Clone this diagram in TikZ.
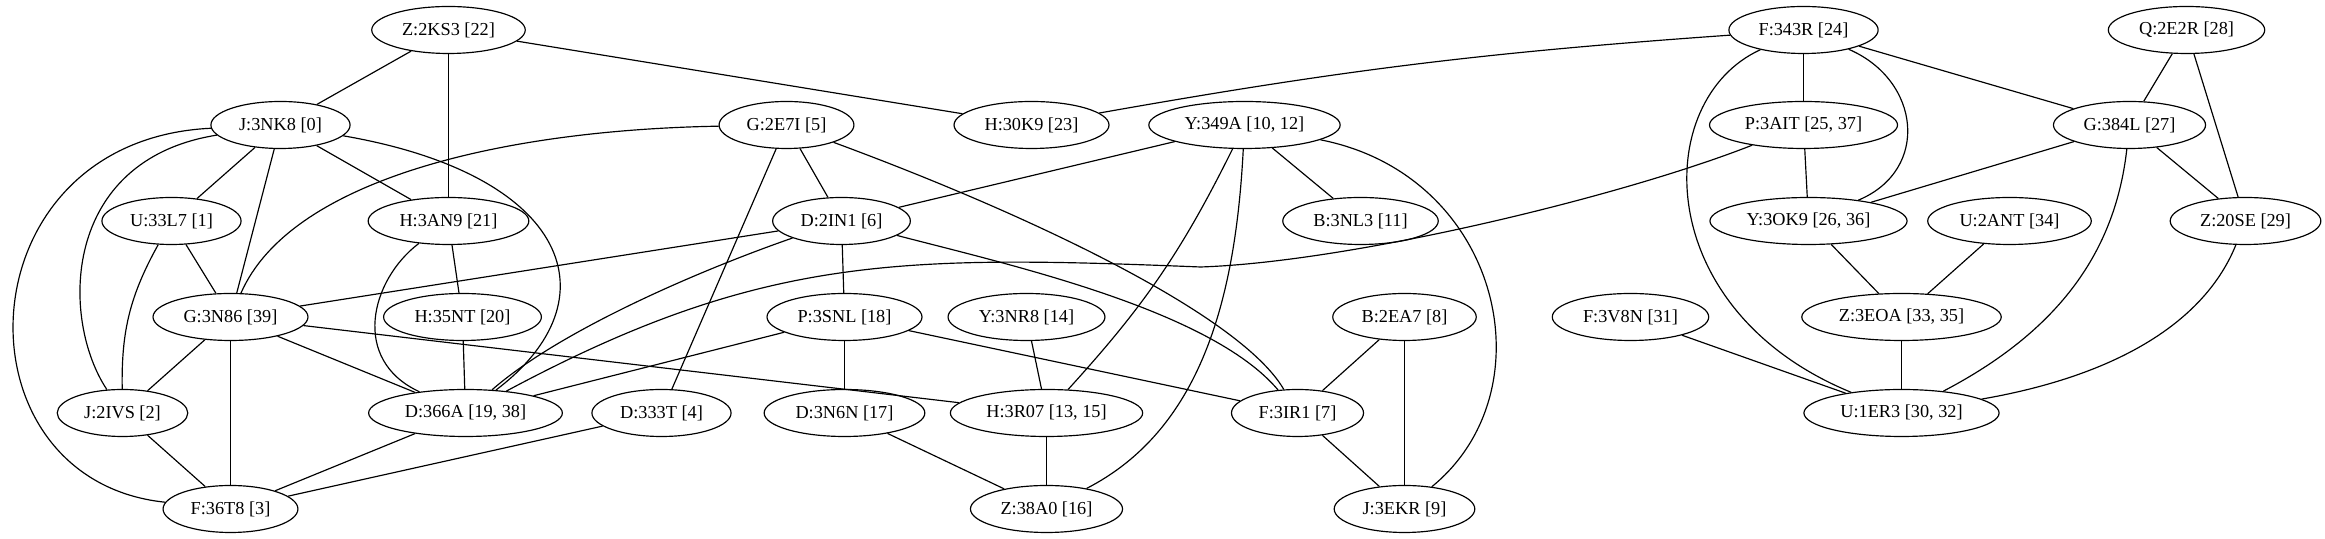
\documentclass[tikz,border=0pt]{standalone}
\usepackage{fontspec}
\setmainfont{Liberation Serif}
\usetikzlibrary{positioning,shapes.geometric}

\begin{document}
\begin{tikzpicture}[
  x=0.766pt, y=0.766pt,
  font={\fontsize{14}{16}\selectfont},
  vertex/.style={ellipse,draw,line width=0.9pt,inner xsep=6pt,inner ysep=2pt,minimum height=36pt},
  edge/.style={line width=0.9pt},
]
  \useasboundingbox (-0.5,0) rectangle (2324.5,539);

  % Top row
  \node[vertex] (z2ks3) at (448,509) {Z:2KS3 [22]};
  \node[vertex] (f343r) at (1803,509) {F:343R [24]};
  \node[vertex] (q2e2r) at (2186,509) {Q:2E2R [28]};

  \node[vertex] (j3nk8) at (280,414) {J:3NK8 [0]};
  \node[vertex] (g2e7i) at (786,414) {G:2E7I [5]};
  \node[vertex] (h30k9) at (1031,414) {H:30K9 [23]};
  \node[vertex] (y349a) at (1244,414) {Y:349A [10, 12]};
  \node[vertex] (p3ait) at (1803,414) {P:3AIT [25, 37]};
  \node[vertex] (g384l) at (2129,414) {G:384L [27]};

  \node[vertex] (u33l7) at (171,318) {U:33L7 [1]};
  \node[vertex] (h3an9) at (448,318) {H:3AN9 [21]};
  \node[vertex] (d2in1) at (841,318) {D:2IN1 [6]};
  \node[vertex] (b3nl3) at (1360,318) {B:3NL3 [11]};
  \node[vertex] (y3ok9) at (1808,318) {Y:3OK9 [26, 36]};
  \node[vertex] (u2ant) at (2009,318) {U:2ANT [34]};
  \node[vertex] (z20se) at (2245,318) {Z:20SE [29]};

  \node[vertex] (g3n86) at (230,222) {G:3N86 [39]};
  \node[vertex] (h35nt) at (462,222) {H:35NT [20]};
  \node[vertex] (p3snl) at (844,222) {P:3SNL [18]};
  \node[vertex] (y3nr8) at (1026,222) {Y:3NR8 [14]};
  \node[vertex] (b2ea7) at (1404,222) {B:2EA7 [8]};
  \node[vertex] (f3v8n) at (1630,222) {F:3V8N [31]};
  \node[vertex] (z3eoa) at (1901,222) {Z:3EOA [33, 35]};

  \node[vertex] (j2ivs) at (122,126) {J:2IVS [2]};
  \node[vertex] (d366a) at (465,126) {D:366A [19, 38]};
  \node[vertex] (d333t) at (661,126) {D:333T [4]};
  \node[vertex] (d3n6n) at (844,126) {D:3N6N [17]};
  \node[vertex] (h3r07) at (1046,126) {H:3R07 [13, 15]};
  \node[vertex] (f3ir1) at (1297,126) {F:3IR1 [7]};
  \node[vertex] (u1er3) at (1901,126) {U:1ER3 [30, 32]};

  % Bottom row
  \node[vertex] (f36t8) at (230,30) {F:36T8 [3]};
  \node[vertex] (z38a0) at (1046,30) {Z:38A0 [16]};
  \node[vertex] (j3ekr) at (1404,30) {J:3EKR [9]};

  \coordinate (pbend) at (1200,272);

  % Left part
  \draw[edge] (z2ks3) -- (j3nk8);
  \draw[edge] (z2ks3) -- (h3an9);
  \draw[edge] (z2ks3) -- (h30k9);
  \draw[edge] (j3nk8) -- (u33l7);
  \draw[edge] (j3nk8) -- (g3n86);
  \draw[edge] (j3nk8) -- (h3an9);
  \draw[edge] (j3nk8) .. controls (570,364) and (615,239) .. (d366a);
  \draw[edge] (j3nk8) .. controls (60,379) and (60,219) .. (j2ivs);
  \draw[edge] (j3nk8) .. controls (-40,399) and (-50,59) .. (f36t8);
  \draw[edge] (u33l7) -- (g3n86);
  \draw[edge] (u33l7) to[bend right=15] (j2ivs);
  \draw[edge] (h3an9) -- (h35nt);
  \draw[edge] (h3an9) .. controls (370,259) and (350,179) .. (d366a);
  \draw[edge] (h35nt) -- (d366a);
  \draw[edge] (g3n86) -- (j2ivs);
  \draw[edge] (g3n86) -- (f36t8);
  \draw[edge] (g3n86) -- (d366a);
  \draw[edge] (g3n86) -- (h3r07);
  \draw[edge] (j2ivs) -- (f36t8);
  \draw[edge] (d366a) -- (f36t8);
  \draw[edge] (d333t) -- (f36t8);

  % Middle part
  \draw[edge] (g2e7i) .. controls (500,409) and (290,359) .. (g3n86);
  \draw[edge] (g2e7i) -- (d2in1);
  \draw[edge] (g2e7i) -- (d333t);
  \draw[edge] (g2e7i) .. controls (1030,324) and (1240,224) .. (f3ir1);
  \draw[edge] (d2in1) -- (g3n86);
  \draw[edge] (d2in1) .. controls (700,269) and (560,209) .. (d366a);
  \draw[edge] (d2in1) -- (p3snl);
  \draw[edge] (d2in1) .. controls (1010,274) and (1210,229) .. (f3ir1);
  \draw[edge] (y349a) -- (d2in1);
  \draw[edge] (y349a) -- (b3nl3);
  \draw[edge] (y349a) to[bend left=8] (h3r07);
  \draw[edge] (y349a) .. controls (1235,239) and (1200,109) .. (z38a0);
  \draw[edge] (y349a) .. controls (1500,364) and (1550,149) .. (j3ekr);
  \draw[edge] (p3snl) -- (d366a);
  \draw[edge] (p3snl) -- (d3n6n);
  \draw[edge] (p3snl) -- (f3ir1);
  \draw[edge] (y3nr8) -- (h3r07);
  \draw[edge] (d3n6n) -- (z38a0);
  \draw[edge] (h3r07) -- (z38a0);
  \draw[edge] (b2ea7) -- (f3ir1);
  \draw[edge] (b2ea7) -- (j3ekr);
  \draw[edge] (f3ir1) -- (j3ekr);

  % Right part
  \draw[edge] (h30k9) to[bend left=3] (f343r);
  \draw[edge] (f343r) -- (p3ait);
  \draw[edge] (f343r) -- (g384l);
  \draw[edge] (f343r) .. controls (1920,459) and (1930,369) .. (y3ok9);
  \draw[edge] (f343r) .. controls (1650,439) and (1650,229) .. (u1er3);
  \draw[edge] (q2e2r) -- (g384l);
  \draw[edge] (q2e2r) -- (z20se);
  \draw[edge] (p3ait) -- (y3ok9);
  \draw[edge] (p3ait) .. controls (1620,342) and (1350,277) .. (pbend)
                      .. controls (900,284) and (760,284) .. (d366a);
  \draw[edge] (g384l) -- (y3ok9);
  \draw[edge] (g384l) -- (z20se);
  \draw[edge] (g384l) .. controls (2115,289) and (2060,209) .. (u1er3);
  \draw[edge] (y3ok9) -- (z3eoa);
  \draw[edge] (u2ant) -- (z3eoa);
  \draw[edge] (z3eoa) -- (u1er3);
  \draw[edge] (f3v8n) -- (u1er3);
  \draw[edge] (z20se) .. controls (2205,219) and (2120,164) .. (u1er3);

\end{tikzpicture}
\end{document}
